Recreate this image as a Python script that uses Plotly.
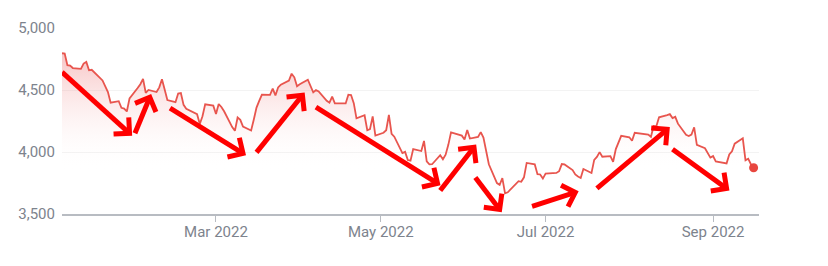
import math
import pandas as pd
import plotly.graph_objects as go

# ---- data: daily closes ----
dates = [
    "2022-01-03","2022-01-04","2022-01-05","2022-01-06","2022-01-07","2022-01-10","2022-01-11","2022-01-12","2022-01-13","2022-01-14",
    "2022-01-18","2022-01-19","2022-01-20","2022-01-21","2022-01-24","2022-01-25","2022-01-26","2022-01-27","2022-01-28","2022-01-31",
    "2022-02-01","2022-02-02","2022-02-03","2022-02-04","2022-02-07","2022-02-08","2022-02-09","2022-02-10","2022-02-11","2022-02-14",
    "2022-02-15","2022-02-16","2022-02-17","2022-02-18","2022-02-22","2022-02-23","2022-02-24","2022-02-25","2022-02-28","2022-03-01",
    "2022-03-02","2022-03-03","2022-03-04","2022-03-07","2022-03-08","2022-03-09","2022-03-10","2022-03-11","2022-03-14","2022-03-15",
    "2022-03-16","2022-03-17","2022-03-18","2022-03-21","2022-03-22","2022-03-23","2022-03-24","2022-03-25","2022-03-28","2022-03-29",
    "2022-03-30","2022-03-31","2022-04-01","2022-04-04","2022-04-05","2022-04-06","2022-04-07","2022-04-08","2022-04-11","2022-04-12",
    "2022-04-13","2022-04-14","2022-04-18","2022-04-19","2022-04-20","2022-04-21","2022-04-22","2022-04-25","2022-04-26","2022-04-27",
    "2022-04-28","2022-04-29","2022-05-02","2022-05-03","2022-05-04","2022-05-05","2022-05-06","2022-05-09","2022-05-10","2022-05-11",
    "2022-05-12","2022-05-13","2022-05-16","2022-05-17","2022-05-18","2022-05-19","2022-05-20","2022-05-23","2022-05-24","2022-05-25",
    "2022-05-26","2022-05-27","2022-05-31","2022-06-01","2022-06-02","2022-06-03","2022-06-06","2022-06-07","2022-06-08","2022-06-09",
    "2022-06-10","2022-06-13","2022-06-14","2022-06-15","2022-06-16","2022-06-17","2022-06-21","2022-06-22","2022-06-23","2022-06-24",
    "2022-06-27","2022-06-28","2022-06-29","2022-06-30","2022-07-01","2022-07-05","2022-07-06","2022-07-07","2022-07-08","2022-07-11",
    "2022-07-12","2022-07-13","2022-07-14","2022-07-15","2022-07-18","2022-07-19","2022-07-20","2022-07-21","2022-07-22","2022-07-25",
    "2022-07-26","2022-07-27","2022-07-28","2022-07-29","2022-08-01","2022-08-02","2022-08-03","2022-08-04","2022-08-05","2022-08-08",
    "2022-08-09","2022-08-10","2022-08-11","2022-08-12","2022-08-15","2022-08-16","2022-08-17","2022-08-18","2022-08-19","2022-08-22",
    "2022-08-23","2022-08-24","2022-08-25","2022-08-26","2022-08-29","2022-08-30","2022-08-31","2022-09-01","2022-09-02","2022-09-06",
    "2022-09-07","2022-09-08","2022-09-09","2022-09-12","2022-09-13","2022-09-14","2022-09-15","2022-09-16",
]
closes = [
    4796.6,4793.5,4700.6,4696.1,4677.0,4670.3,4713.1,4726.4,4659.0,4662.9,
    4577.1,4532.8,4482.7,4397.9,4410.1,4356.5,4349.9,4326.5,4431.9,4515.6,
    4546.5,4589.4,4477.4,4500.5,4483.9,4521.5,4587.2,4504.1,4418.6,4401.7,
    4471.1,4475.0,4380.3,4348.9,4304.8,4225.5,4288.7,4384.7,4373.9,4306.3,
    4386.5,4363.5,4328.9,4201.1,4170.7,4277.9,4259.5,4204.3,4173.1,4262.5,
    4357.9,4411.7,4463.1,4461.2,4511.6,4456.2,4520.2,4543.1,4575.5,4631.6,
    4602.5,4530.4,4545.9,4582.6,4525.1,4481.2,4500.2,4488.3,4412.5,4397.5,
    4446.6,4392.6,4391.7,4462.2,4459.5,4393.7,4271.8,4296.1,4175.2,4184.0,
    4287.5,4131.9,4155.4,4175.5,4300.2,4146.9,4123.3,3991.2,4001.1,3935.2,
    3930.1,4023.9,4008.0,4088.9,3923.7,3900.8,3901.4,3973.8,3941.5,3978.7,
    4057.8,4158.2,4132.2,4101.2,4176.8,4108.5,4121.4,4160.7,4115.8,4017.8,
    3900.9,3749.6,3735.5,3790.0,3666.8,3674.8,3764.8,3759.9,3795.7,3911.7,
    3900.1,3821.6,3818.8,3785.4,3825.3,3831.4,3845.1,3902.6,3899.4,3854.4,
    3818.8,3801.8,3790.4,3863.2,3830.9,3936.7,3959.9,3999.0,3961.6,3966.8,
    3921.1,4023.6,4072.4,4130.3,4118.6,4091.2,4155.2,4151.9,4145.2,4140.1,
    4122.5,4210.2,4207.3,4280.2,4297.1,4305.2,4274.0,4283.7,4228.5,4138.0,
    4128.7,4140.8,4199.1,4057.7,4030.6,3986.2,3955.0,3966.9,3924.3,3908.2,
    3979.9,4006.2,4067.4,4110.4,3932.7,3946.0,3901.4,3873.3,
]
y_ticks = [3500, 4000, 4500, 5000]

# annotation arrows: (tail date, tail value, tip date, tip value)
arrow_tail_dates = ["2022-01-03", "2022-01-30", "2022-02-12", "2022-03-16", "2022-04-07",
                    "2022-05-23", "2022-06-05", "2022-06-26", "2022-07-20", "2022-08-17"]
arrow_tail_vals = [4644, 4151, 4353, 3997, 4361, 3690, 3795, 3561, 3706, 4022]
arrow_tip_dates = ["2022-01-28", "2022-02-04 12:00", "2022-03-11", "2022-04-02", "2022-05-22",
                   "2022-06-04 12:00", "2022-06-14", "2022-07-12", "2022-08-15", "2022-09-06"]
arrow_tip_vals = [4151, 4442, 3989, 4458, 3747, 4038, 3536, 3674, 4183, 3706]

# ---- layout geometry ----
W, H = 828, 266
ML, MR, MT, MB = 62, 69, 28, 52
X0, X1 = pd.Timestamp("2022-01-03"), pd.Timestamp("2022-09-18")
Y0, Y1 = 3500, 5000
PW, PH = W - ML - MR, H - MT - MB
days_span = (X1 - X0) / pd.Timedelta(days=1)


def to_px(d, v):
    t = (pd.Timestamp(d) - X0) / pd.Timedelta(days=1)
    return t / days_span * PW, (v - Y0) / (Y1 - Y0) * PH  # y up


def from_px(px, py):
    return X0 + pd.Timedelta(days=px / PW * days_span), Y0 + py / PH * (Y1 - Y0)


fig = go.Figure()
fig.add_trace(go.Scatter(
    x=dates, y=closes, mode="lines",
    line=dict(color="#e8554e", width=1.8),
    fill="tozeroy",
    fillgradient=dict(type="vertical", start=3850, stop=4800,
                      colorscale=[[0, "rgba(255,255,255,0)"], [1, "rgba(232,80,80,0.34)"]]),
    hoverinfo="skip", showlegend=False,
))
fig.add_trace(go.Scatter(
    x=[dates[-1]], y=[closes[-1]], mode="markers",
    marker=dict(color="#e8463f", size=9), showlegend=False, hoverinfo="skip",
))

# arrows
ax_x, ax_y = [], []
HEAD = 16
for td, tv, hd, hv in zip(arrow_tail_dates, arrow_tail_vals, arrow_tip_dates, arrow_tip_vals):
    tx, ty = to_px(td, tv)
    hx, hy = to_px(hd, hv)
    ang = math.atan2(ty - hy, tx - hx)
    pts = []
    for s in (1, -1):
        a = ang + s * math.radians(45)
        pts.append((hx + HEAD * math.cos(a), hy + HEAD * math.sin(a)))
    seq = [(tx, ty), (hx, hy), None, pts[0], (hx, hy), pts[1], None]
    for p in seq:
        if p is None:
            ax_x.append(None); ax_y.append(None)
        else:
            d, v = from_px(*p)
            ax_x.append(d); ax_y.append(v)

fig.add_trace(go.Scatter(
    x=ax_x, y=ax_y, mode="lines",
    line=dict(color="#ff0000", width=5), showlegend=False, hoverinfo="skip",
))

font = dict(family="Roboto", size=15, color="#7d838d")
fig.update_layout(
    width=W, height=H,
    margin=dict(l=ML, r=MR, t=MT, b=MB),
    paper_bgcolor="white", plot_bgcolor="white",
    font=font,
    xaxis=dict(
        range=[X0, X1], type="date", dtick="M2", tick0="2022-01-01",
        tickformat="%b %Y", showgrid=False, showline=True,
        linecolor="#b8bcc2", linewidth=2, ticks="outside", ticklen=6,
        tickcolor="#b8bcc2", tickwidth=1, zeroline=False, tickfont=font,
        ticklabelstandoff=-3,
    ),
    yaxis=dict(
        range=[Y0, Y1], tickvals=y_ticks, tickformat=",", showgrid=True,
        gridcolor="#f3f3f3", gridwidth=1, zeroline=False, showline=False,
        ticks="", ticklabelstandoff=6, tickfont=font,
    ),
)
fig.write_html("out.html")
